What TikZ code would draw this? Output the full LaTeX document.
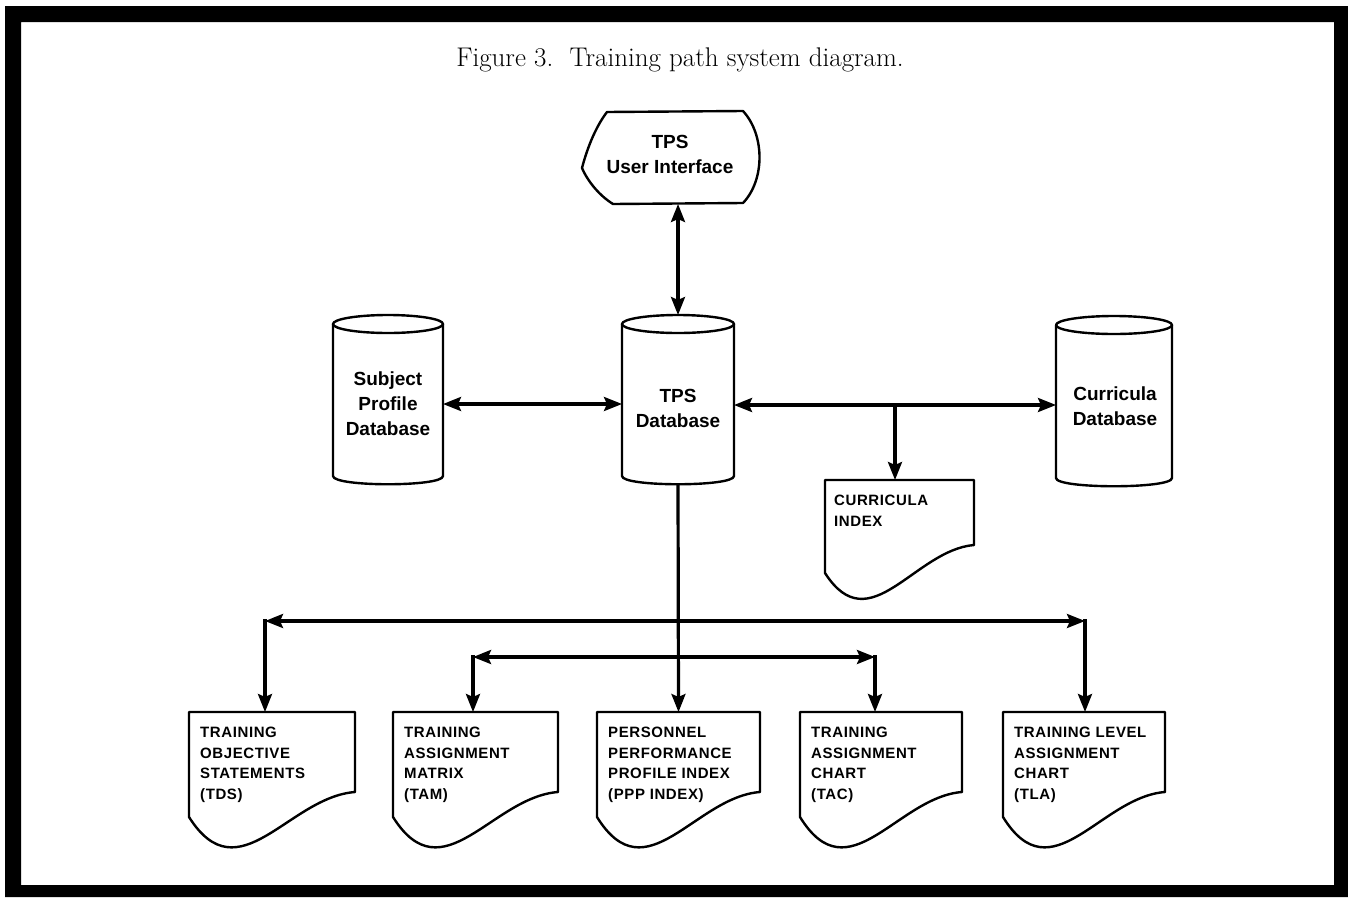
\documentclass[tikz,border=0pt]{standalone}
\usepackage{fontspec}
\setsansfont{Liberation Sans}
\usetikzlibrary{arrows.meta}
\tikzset{
  shp/.style={line width=2.4pt, line join=round},
  tipA/.tip={Stealth[length=18pt,width=14pt,inset=3pt]},
  conn/.style={line width=3.2pt, -tipA},
  biconn/.style={line width=3.2pt, tipA-tipA},
  dblabel/.style={font=\sffamily\bfseries\fontsize{19}{25}\selectfont, align=center, inner sep=0pt},
  doclabel/.style={font=\sffamily\bfseries\fontsize{15}{20.5}\selectfont\addfontfeature{LetterSpace=4}, align=left, inner sep=0pt, anchor=north west},
  body/.style={inner sep=0pt, outer sep=0pt},
}
% cylinder: name, cx, top, bottom, rx
\newcommand\mycyl[5]{%
  \draw[shp] (#2,#3+9) ellipse [x radius=#5, y radius=9];
  \draw[shp] (#2-#5,#3+9) -- (#2-#5,#4-8) .. controls (#2-#5,#4+3) and (#2+#5,#4+3) .. (#2+#5,#4-8) -- (#2+#5,#3+9);
  \node[body, minimum width={2*#5}, minimum height={#4-#3}] (#1) at (#2,{(#3+#4)/2}) {};
}
% document: name, L, T, W, hl, hr, inset, text
\newcommand\mydoc[8]{%
  \draw[shp] (#2,#3) -- (#2+#4,#3) -- (#2+#4,#3+#6) .. controls (#2+0.6*#4,#3+#6+5) and (#2+0.3*#4,#3+1.75*#5) .. (#2,#3+#5) -- cycle;
  \node[body, minimum width=#4, minimum height=#6, anchor=north west] (#1) at (#2,#3) {};
  \node[doclabel] (#1t) at (#2+#7,#3+15) {#8};
}
\begin{document}
\begin{tikzpicture}[x=1pt,y=-1pt]
\useasboundingbox (0,0) rectangle (1348,897);
% frame
\fill[even odd rule] (5,6) rectangle (1348,897) (21,22) rectangle (1334,885);
% title
\node[font=\fontsize{27}{32}\selectfont, anchor=base] (title) at (680,66) {Figure 3.\ \ Training path system diagram.};

% user interface
\draw[shp] (607,112) -- (743,111) .. controls (765,135) and (765,180) .. (743,203) -- (613,204)
  .. controls (600,196) and (588,182) .. (582,168) .. controls (588,145) and (597,125) .. cycle;
\node[dblabel] (ui) at (670,154) {TPS\\User Interface};
\coordinate (uib) at (678,204);

% cylinders
\mycyl{sub}{388}{315}{484}{55}
\node[dblabel] (subt) at (388,404) {Subject\\Profile\\Database};
\mycyl{tps}{678}{315}{484}{56}
\node[dblabel] (tpst) at (678,408) {TPS\\Database};
\mycyl{cur}{1114}{316}{486}{58}
\node[dblabel] (curt) at (1115,406) {Curricula\\Database};

% documents
\mydoc{ci}{825}{480}{149}{93}{65}{9}{CURRICULA\\INDEX}
\mydoc{tds}{189}{712}{166}{105}{80}{11}{TRAINING\\OBJECTIVE\\STATEMENTS\\(TDS)}
\mydoc{tam}{393}{712}{165}{105}{80}{11}{TRAINING\\ASSIGNMENT\\MATRIX\\(TAM)}
\mydoc{ppp}{597}{712}{163}{105}{80}{11}{PERSONNEL\\PERFORMANCE\\PROFILE INDEX\\(PPP INDEX)}
\mydoc{tac}{800}{712}{162}{105}{80}{11}{TRAINING\\ASSIGNMENT\\CHART\\(TAC)}
\mydoc{tla}{1003}{712}{162}{105}{80}{11}{TRAINING LEVEL\\ASSIGNMENT\\CHART\\(TLA)}

% connectors
\draw[biconn] (uib) -- (tps.north);
\coordinate (j0) at (500,404);
\draw[biconn] (sub.east |- j0) -- (tps.west |- j0);
\coordinate (j1) at (895,405);
\draw[biconn] (tps.east |- j1) -- (cur.west |- j1);
\draw[conn] (j1) -- (j1 |- ci.north);
\draw[conn] (tps.south) -- (ppp.north);

\coordinate (ctds) at (265,621);
\coordinate (ctla) at (1085,621);
\coordinate (ctam) at (473,657);
\coordinate (ctac) at (875,657);
\draw[biconn] (ctds) -- (ctla);
\draw[biconn] (ctam) -- (ctac);
\draw[conn, line cap=rect] (ctds) -- (ctds |- tds.north);
\draw[conn, line cap=rect] (ctla) -- (ctla |- tla.north);
\draw[conn, line cap=rect] (ctam) -- (ctam |- tam.north);
\draw[conn, line cap=rect] (ctac) -- (ctac |- tac.north);
\end{tikzpicture}
\end{document}
